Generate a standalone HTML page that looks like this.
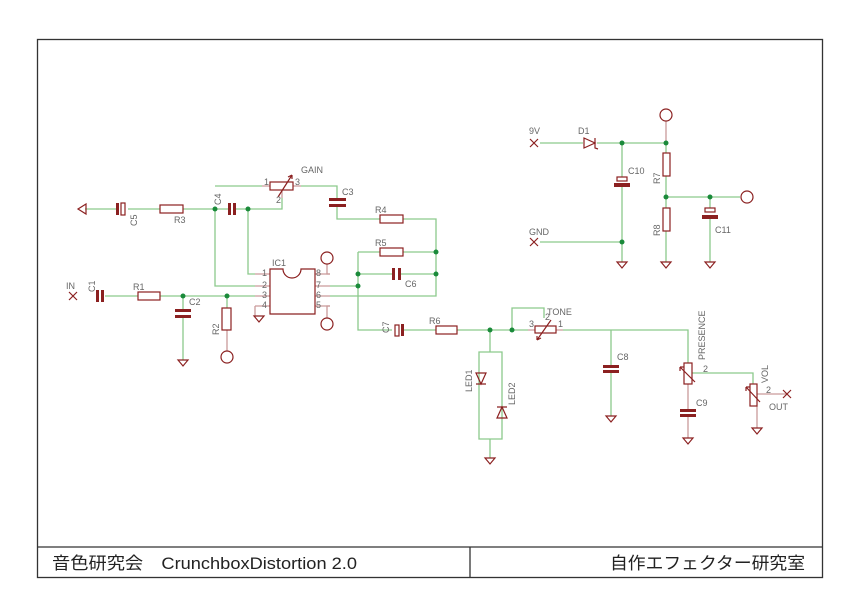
<!DOCTYPE html>
<html><head><meta charset="utf-8"><style>
body{margin:0;background:#fff;width:859px;height:612px;overflow:hidden}
svg{display:block}
.w{stroke:#8cc98c;stroke-width:1.3;fill:none}
.p{stroke:#c99a9a;stroke-width:1.3;fill:none}
.c{stroke:#8b2020;stroke-width:1.2;fill:none}
.f{fill:#8b2020;stroke:none}
.d{fill:#1a8a3a}
text{font-family:"Liberation Sans",sans-serif;font-size:9px;fill:#666}
.s{font-size:7px}
.t{font-family:"Liberation Sans","Noto Sans CJK JP",sans-serif;font-size:17px;fill:#222}
</style></head><body>
<svg width="859" height="612" viewBox="0 0 859 612">
<rect x="37.5" y="39.5" width="785" height="538" fill="none" stroke="#333" stroke-width="1.3"/>
<line x1="37" y1="547" x2="822" y2="547" stroke="#333" stroke-width="1.3"/>
<line x1="470" y1="547" x2="470" y2="577" stroke="#333" stroke-width="1.3"/>
<text class="t" x="52" y="569" textLength="305" lengthAdjust="spacingAndGlyphs">音色研究会　CrunchboxDistortion 2.0</text>
<text class="t" x="610" y="569" textLength="195" lengthAdjust="spacingAndGlyphs">自作エフェクター研究室</text>

<!-- wires -->
<g class="w">
<path d="M85 209H117M128 209H160M183 209H228M235 209H282V198"/>
<path d="M215 209V286H255M248 209V274H255"/>
<path d="M215 186H262M301 186H337V198M337 206V219H380M403 219H436V296H330"/>
<path d="M358 252H380M403 252H436M358 274H393M400 274H436M330 286H358M358 252V330H392"/>
<path d="M105 296H138M160 296H255M183 296V310M183 318V360M227 296V308"/>
<path d="M402 330H436M457 330H528M563 330H688V363M512 330V308H544V318"/>
<path d="M611 330V366M611 371V416"/>
<path d="M490 330V352H479V439H502V352H490M490 439V458"/>
<path d="M692 373H753V384"/>
<path d="M540 143H583M597 143H666V153M622 143V177M622 185V262M540 242H622M666 176V208M666 197H740M710 197V208M710 218V262M666 231V262"/>
</g>
<g class="p">
<path d="M255 274H270M255 286H270M255 296H270M255 306H270M315 274H330M315 286H330M315 296H330M315 306H330"/>
<path d="M255 306V316M327 264V274H330M327 318V306H330M227 330V351M688 384V410M688 415V438M757 406V428M757 394H787M666 121V143"/>
<path d="M262 186H270M293 186H301M528 330H535M556 330H563M282 198V191"/>
</g>
<!-- dots -->
<g class="d">
<circle cx="215" cy="209" r="2.5"/><circle cx="248" cy="209" r="2.5"/>
<circle cx="183" cy="296" r="2.5"/><circle cx="227" cy="296" r="2.5"/>
<circle cx="436" cy="252" r="2.5"/><circle cx="358" cy="274" r="2.5"/><circle cx="436" cy="274" r="2.5"/><circle cx="358" cy="286" r="2.5"/>
<circle cx="490" cy="330" r="2.5"/><circle cx="512" cy="330" r="2.5"/>
<circle cx="622" cy="143" r="2.5"/><circle cx="666" cy="143" r="2.5"/><circle cx="622" cy="242" r="2.5"/><circle cx="666" cy="197" r="2.5"/><circle cx="710" cy="197" r="2.5"/>
</g>
<!-- components -->
<g class="c">
<path d="M86 204L78 209L86 214Z"/>
<rect x="121" y="203" width="4" height="12"/>
<rect x="160" y="205" width="23" height="8"/>
<rect x="138" y="292" width="22" height="8"/>
<rect x="380" y="215" width="23" height="8"/>
<rect x="380" y="248" width="23" height="8"/>
<rect x="436" y="326" width="21" height="8"/>
<rect x="222" y="308" width="9" height="22"/>
<rect x="270" y="182" width="23" height="8"/>
<path d="M278 197L292 175M292 175L288 177M292 175L292 179"/>
<path d="M270 269H283A9 9 0 0 0 301 269H315V314H270Z"/>
<circle cx="327" cy="258" r="6"/><circle cx="327" cy="324" r="6"/><circle cx="227" cy="357" r="6"/>
<circle cx="666" cy="115" r="6"/><circle cx="747" cy="197" r="6"/>
<rect x="395" y="325" width="4" height="11"/>
<rect x="535" y="326" width="21" height="7"/>
<path d="M537 340L551 320M537 340L537 336M537 340L541 338"/>
<path d="M476 373H486L481 384Z M476 384H486"/>
<path d="M497 418H507L502 407Z M497 407H507"/>
<rect x="684" y="363" width="8" height="21"/>
<path d="M680 367L695 382M680 367L684 367M680 367L680 371"/>
<rect x="750" y="384" width="7" height="22"/>
<path d="M746 387L760 402M746 387L750 387M746 387L746 391"/>
<path d="M584 138V148L595 143Z M595 138V148L598 149"/>
<rect x="705" y="208" width="10" height="4"/>
<rect x="617" y="177" width="10" height="4"/>
<rect x="663" y="153" width="7" height="23"/>
<rect x="663" y="208" width="7" height="23"/>
<path d="M178 360H188L183 366Z"/>
<path d="M254 316H264L259 322Z"/>
<path d="M606 416H616L611 422Z"/>
<path d="M485 458H495L490 464Z"/>
<path d="M683 438H693L688 444Z"/>
<path d="M752 428H762L757 434Z"/>
<path d="M617 262H627L622 268Z"/>
<path d="M661 262H671L666 268Z"/>
<path d="M705 262H715L710 268Z"/>
<path d="M69 292L77 300M77 292L69 300M530 139L538 147M538 139L530 147M530 238L538 246M538 238L530 246M783 390L791 398M791 390L783 398"/>
</g>
<g class="f">
<rect x="116" y="203" width="3" height="12"/>
<rect x="228" y="203" width="3" height="12"/><rect x="233" y="203" width="3" height="12"/>
<rect x="96" y="290" width="3" height="12"/><rect x="101" y="290" width="3" height="12"/>
<rect x="392" y="268" width="3" height="12"/><rect x="398" y="268" width="3" height="12"/>
<rect x="401" y="324" width="3" height="12"/>
<rect x="175" y="309" width="16" height="3"/><rect x="175" y="315" width="16" height="3"/>
<rect x="329" y="198" width="17" height="3"/><rect x="329" y="204" width="17" height="3"/>
<rect x="603" y="365" width="16" height="3"/><rect x="603" y="370" width="16" height="3"/>
<rect x="680" y="409" width="16" height="3"/><rect x="680" y="414" width="16" height="3"/>
<rect x="614" y="183" width="16" height="4"/>
<rect x="702" y="215" width="16" height="4"/>
</g>
<!-- labels -->
<text x="66" y="289">IN</text>
<text x="133" y="290">R1</text>
<text x="189" y="305">C2</text>
<text x="174" y="223">R3</text>
<text x="301" y="173">GAIN</text>
<text x="342" y="195">C3</text>
<text x="375" y="213">R4</text>
<text x="375" y="246">R5</text>
<text x="405" y="287">C6</text>
<text x="272" y="266">IC1</text>
<text x="429" y="324">R6</text>
<text x="547" y="315">TONE</text>
<text x="617" y="360">C8</text>
<text x="696" y="406">C9</text>
<text x="769" y="410">OUT</text>
<text x="529" y="134">9V</text>
<text x="578" y="134">D1</text>
<text x="628" y="174">C10</text>
<text x="529" y="235">GND</text>
<text x="715" y="233">C11</text>
<g class="s">
<text x="264" y="185">1</text><text x="295" y="185">3</text><text x="276" y="203">2</text>
<text x="262" y="276">1</text><text x="262" y="288">2</text><text x="262" y="298">3</text><text x="262" y="308">4</text>
<text x="316" y="276">8</text><text x="316" y="288">7</text><text x="316" y="298">6</text><text x="316" y="308">5</text>
<text x="529" y="327">3</text><text x="558" y="327">1</text><text x="545" y="320">2</text>
<text x="703" y="372">2</text><text x="766" y="393">2</text>
</g>
<g>
<text transform="translate(95,292) rotate(-90)">C1</text>
<text transform="translate(221,205) rotate(-90)">C4</text>
<text transform="translate(137,226) rotate(-90)">C5</text>
<text transform="translate(219,335) rotate(-90)">R2</text>
<text transform="translate(389,333) rotate(-90)">C7</text>
<text transform="translate(472,392) rotate(-90)">LED1</text>
<text transform="translate(515,405) rotate(-90)">LED2</text>
<text transform="translate(705,360) rotate(-90)">PRESENCE</text>
<text transform="translate(768,383) rotate(-90)">VOL</text>
<text transform="translate(660,184) rotate(-90)">R7</text>
<text transform="translate(660,236) rotate(-90)">R8</text>
</g>
</svg>
</body></html>
